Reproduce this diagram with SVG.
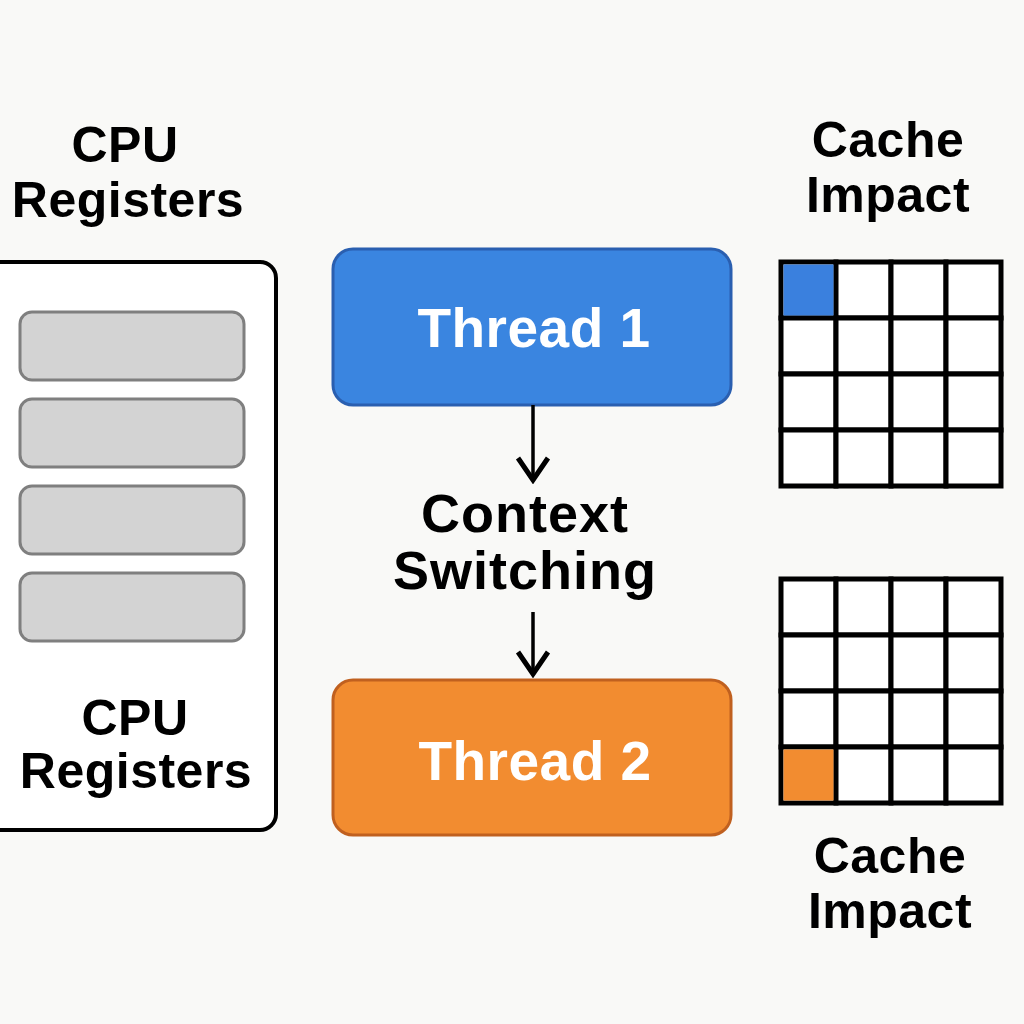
<svg xmlns="http://www.w3.org/2000/svg" width="1024" height="1024" viewBox="0 0 1024 1024">
<defs>
<style>
.lbl{font-family:"Liberation Sans",Arial,sans-serif;font-weight:bold;font-size:50px;letter-spacing:0.5px;fill:#000;text-anchor:middle}
.ctx{font-size:54px;letter-spacing:1px}
.thr{font-family:"Liberation Sans",Arial,sans-serif;font-weight:bold;font-size:55px;letter-spacing:0.5px;fill:#fff;text-anchor:middle}
.reg{fill:#d3d3d3;stroke:#7f7f7f;stroke-width:3}
.cell{fill:#fff;stroke:#000;stroke-width:5}
.conn{stroke:#000;stroke-width:3.5;fill:none}
</style>
<marker id="arr" viewBox="0 0 32 36" refX="29" refY="18" markerWidth="32" markerHeight="36" markerUnits="userSpaceOnUse" orient="auto">
<path d="M6,3 L28,18 L6,33" fill="none" stroke="#000" stroke-width="5" stroke-linejoin="miter"/>
</marker>
</defs>
<rect width="1024" height="1024" fill="#f9f9f7"/>

<g id="cpu-registers">
<text class="lbl" x="125" y="162">CPU</text>
<text class="lbl" x="128" y="217">Registers</text>
<rect x="-20" y="262" width="296" height="568" rx="16" fill="#fff" stroke="#000" stroke-width="4"/>
<rect class="reg" x="20" y="312" width="224" height="68" rx="12"/>
<rect class="reg" x="20" y="399" width="224" height="68" rx="12"/>
<rect class="reg" x="20" y="486" width="224" height="68" rx="12"/>
<rect class="reg" x="20" y="573" width="224" height="68" rx="12"/>
<text class="lbl" x="135" y="735">CPU</text>
<text class="lbl" x="136" y="788">Registers</text>
</g>

<g id="thread1">
<rect x="333" y="249" width="398" height="156" rx="20" fill="#3a85e0" stroke="#2a5fb0" stroke-width="3"/>
<text class="thr" x="534" y="347">Thread 1</text>
</g>

<g id="context-switching">
<text class="lbl ctx" x="525" y="532">Context</text>
<text class="lbl ctx" x="525" y="589">Switching</text>
</g>

<g id="thread2">
<rect x="333" y="680" width="398" height="155" rx="20" fill="#f28c30" stroke="#c0601f" stroke-width="3"/>
<text class="thr" x="535" y="780">Thread 2</text>
</g>

<g id="cache-top">
<text class="lbl" x="888" y="157">Cache</text>
<text class="lbl" x="888" y="212">Impact</text>
<g>
<rect class="cell" x="781" y="262" width="55" height="56"/>
<rect class="cell" x="836" y="262" width="55" height="56"/>
<rect class="cell" x="891" y="262" width="55" height="56"/>
<rect class="cell" x="946" y="262" width="55" height="56"/>
<rect class="cell" x="781" y="318" width="55" height="56"/>
<rect class="cell" x="836" y="318" width="55" height="56"/>
<rect class="cell" x="891" y="318" width="55" height="56"/>
<rect class="cell" x="946" y="318" width="55" height="56"/>
<rect class="cell" x="781" y="374" width="55" height="56"/>
<rect class="cell" x="836" y="374" width="55" height="56"/>
<rect class="cell" x="891" y="374" width="55" height="56"/>
<rect class="cell" x="946" y="374" width="55" height="56"/>
<rect class="cell" x="781" y="430" width="55" height="56"/>
<rect class="cell" x="836" y="430" width="55" height="56"/>
<rect class="cell" x="891" y="430" width="55" height="56"/>
<rect class="cell" x="946" y="430" width="55" height="56"/>
</g>
<rect x="783.5" y="264.5" width="50" height="51" fill="#3a80de"/>
</g>

<g id="cache-bottom">
<g>
<rect class="cell" x="781" y="579" width="55" height="56"/>
<rect class="cell" x="836" y="579" width="55" height="56"/>
<rect class="cell" x="891" y="579" width="55" height="56"/>
<rect class="cell" x="946" y="579" width="55" height="56"/>
<rect class="cell" x="781" y="635" width="55" height="56"/>
<rect class="cell" x="836" y="635" width="55" height="56"/>
<rect class="cell" x="891" y="635" width="55" height="56"/>
<rect class="cell" x="946" y="635" width="55" height="56"/>
<rect class="cell" x="781" y="691" width="55" height="56"/>
<rect class="cell" x="836" y="691" width="55" height="56"/>
<rect class="cell" x="891" y="691" width="55" height="56"/>
<rect class="cell" x="946" y="691" width="55" height="56"/>
<rect class="cell" x="781" y="747" width="55" height="56"/>
<rect class="cell" x="836" y="747" width="55" height="56"/>
<rect class="cell" x="891" y="747" width="55" height="56"/>
<rect class="cell" x="946" y="747" width="55" height="56"/>
</g>
<rect x="783.5" y="749.5" width="50" height="51" fill="#f28c30"/>
<text class="lbl" x="890" y="873">Cache</text>
<text class="lbl" x="890" y="928">Impact</text>
</g>

<g id="connectors">
<line class="conn" x1="533" y1="405" x2="533" y2="481" marker-end="url(#arr)"/>
<line class="conn" x1="533" y1="612" x2="533" y2="675" marker-end="url(#arr)"/>
</g>
</svg>
